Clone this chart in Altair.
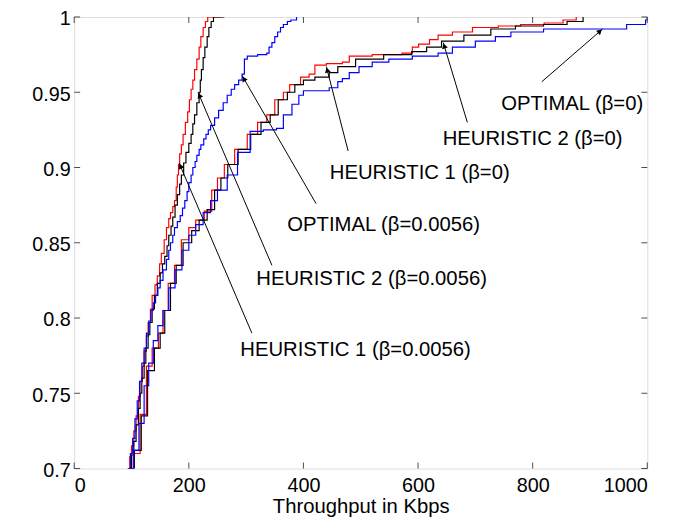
import math
import altair as alt
import pandas as pd

FONT = "Liberation Sans"

# ---- CDF curves (x: throughput in Kbps, y: CDF) ----
h1_fast_x = [93, 97, 100, 104, 108, 112, 115, 119, 122, 126, 129, 133, 136, 141, 145, 149, 152, 157, 161, 165, 168, 172, 175, 178, 180, 182, 184, 187, 190, 194, 198, 201, 204, 207, 210, 214, 218, 221, 225, 229, 233, 256]
h1_fast_y = [0.700, 0.708, 0.715, 0.725, 0.735, 0.748, 0.758, 0.768, 0.778, 0.788, 0.797, 0.806, 0.815, 0.822, 0.828, 0.836, 0.843, 0.852, 0.860, 0.866, 0.870, 0.874, 0.878, 0.887, 0.895, 0.902, 0.909, 0.915, 0.922, 0.930, 0.937, 0.945, 0.952, 0.958, 0.965, 0.972, 0.980, 0.987, 0.993, 0.997, 1.000, 1.000]

h2_fast_x = [97, 100, 104, 108, 112, 115, 118, 122, 125, 129, 132, 136, 140, 145, 150, 154, 158, 162, 165, 169, 172, 176, 180, 184, 187, 191, 195, 200, 204, 207, 210, 214, 218, 220, 222, 225, 228, 232, 235, 239, 243, 262]
h2_fast_y = [0.700, 0.709, 0.718, 0.729, 0.740, 0.750, 0.760, 0.770, 0.780, 0.789, 0.797, 0.806, 0.815, 0.823, 0.830, 0.836, 0.841, 0.848, 0.855, 0.861, 0.867, 0.875, 0.882, 0.889, 0.895, 0.903, 0.910, 0.916, 0.922, 0.929, 0.935, 0.943, 0.950, 0.958, 0.965, 0.973, 0.980, 0.987, 0.993, 0.997, 1.000, 1.000]

opt_fast_x = [94, 98, 102, 106, 110, 114, 118, 122, 126, 130, 134, 138, 142, 146, 150, 155, 161, 165, 168, 172, 175, 180, 185, 189, 193, 197, 200, 204, 207, 211, 214, 218, 221, 226, 230, 234, 238, 245, 252, 260, 267, 274, 280, 287, 293, 297, 302, 320, 336, 340, 345, 350, 355, 360, 365, 372, 378, 388]
opt_fast_y = [0.700, 0.710, 0.720, 0.733, 0.745, 0.758, 0.770, 0.780, 0.790, 0.798, 0.805, 0.810, 0.815, 0.820, 0.825, 0.832, 0.839, 0.845, 0.850, 0.855, 0.860, 0.864, 0.868, 0.873, 0.878, 0.884, 0.890, 0.895, 0.900, 0.904, 0.908, 0.912, 0.915, 0.919, 0.922, 0.925, 0.928, 0.933, 0.938, 0.943, 0.948, 0.952, 0.955, 0.958, 0.962, 0.972, 0.974, 0.975, 0.976, 0.980, 0.983, 0.987, 0.990, 0.993, 0.995, 0.997, 0.998, 1.000]

h1_slow_x = [95, 103, 115, 126, 136, 147, 155, 164, 175, 187, 200, 212, 227, 240, 250, 262, 280, 302, 320, 336, 350, 365, 376, 395, 410, 420, 440, 468, 480, 520, 572, 590, 601, 620, 635, 660, 695, 740, 779, 820, 853, 876]
h1_slow_y = [0.700, 0.710, 0.736, 0.768, 0.780, 0.790, 0.805, 0.823, 0.835, 0.852, 0.860, 0.865, 0.871, 0.885, 0.893, 0.902, 0.912, 0.922, 0.930, 0.935, 0.945, 0.950, 0.955, 0.960, 0.962, 0.968, 0.969, 0.970, 0.974, 0.975, 0.976, 0.980, 0.982, 0.985, 0.988, 0.990, 0.993, 0.994, 0.995, 0.996, 0.998, 1.000]

h2_slow_x = [97, 105, 117, 128, 140, 150, 158, 168, 178, 190, 205, 218, 232, 245, 256, 268, 286, 308, 326, 342, 356, 372, 385, 400, 420, 445, 460, 491, 540, 589, 615, 641, 680, 727, 770, 819, 860, 888]
h2_slow_y = [0.700, 0.712, 0.735, 0.765, 0.780, 0.790, 0.805, 0.823, 0.835, 0.850, 0.858, 0.865, 0.872, 0.885, 0.893, 0.902, 0.912, 0.922, 0.930, 0.935, 0.945, 0.950, 0.955, 0.958, 0.960, 0.963, 0.967, 0.972, 0.975, 0.977, 0.980, 0.984, 0.988, 0.992, 0.994, 0.995, 0.997, 1.000]

opt_slow_x = [94, 104, 113, 122, 130, 138, 146, 155, 165, 176, 188, 200, 212, 225, 238, 250, 267, 285, 307, 330, 353, 365, 380, 392, 400, 445, 460, 468, 480, 497, 520, 549, 590, 635, 660, 700, 735, 762, 819, 905, 964, 997, 1000]
opt_slow_y = [0.700, 0.712, 0.730, 0.755, 0.770, 0.785, 0.795, 0.805, 0.820, 0.832, 0.845, 0.855, 0.862, 0.870, 0.878, 0.885, 0.895, 0.910, 0.924, 0.925, 0.926, 0.935, 0.942, 0.948, 0.951, 0.953, 0.957, 0.959, 0.963, 0.967, 0.970, 0.972, 0.974, 0.976, 0.980, 0.984, 0.987, 0.990, 0.992, 0.992, 0.995, 0.998, 1.000]

series = [
    ("h1_fast", "#ff0000", h1_fast_x, h1_fast_y),
    ("h2_fast", "#000000", h2_fast_x, h2_fast_y),
    ("opt_fast", "#0000ff", opt_fast_x, opt_fast_y),
    ("h1_slow", "#ff0000", h1_slow_x, h1_slow_y),
    ("h2_slow", "#000000", h2_slow_x, h2_slow_y),
    ("opt_slow", "#0000ff", opt_slow_x, opt_slow_y),
]

# ---- annotations: label text, label centre, arrow start, arrow tip ----
ann_text = ["OPTIMAL (β=0)", "HEURISTIC 2 (β=0)", "HEURISTIC 1 (β=0)",
            "OPTIMAL (β=0.0056)", "HEURISTIC 2 (β=0.0056)", "HEURISTIC 1 (β=0.0056)"]
ann_tx = [869, 800, 603, 540, 519, 491]
ann_ty = [0.942, 0.919, 0.896, 0.862, 0.826, 0.779]
arr_x0 = [816, 686, 478, 422, 345, 310]
arr_y0 = [0.957, 0.930, 0.911, 0.876, 0.835, 0.790]
arr_x1 = [922, 644, 440, 293, 216, 183]
arr_y1 = [0.992, 0.983, 0.967, 0.961, 0.950, 0.903]

x_ticks = [0, 200, 400, 600, 800, 1000]
y_ticks = [0.7, 0.75, 0.8, 0.85, 0.9, 0.95, 1.0]

W, H = 580, 457
XD = [0, 1000]
YD = [0.7, 1.0]

xs = alt.Scale(domain=XD, nice=False, zero=False)
ys = alt.Scale(domain=YD, nice=False, zero=False)

x_axis = alt.Axis(values=x_ticks, format="d", ticks=False, domain=False, grid=False,
                  labelFont=FONT, labelFontSize=20, labelColor="black",
                  labelPadding=7, title="Throughput in Kbps", titleFont=FONT,
                  titleFontSize=20.5, titleFontWeight="normal", titleColor="black",
                  titleBaseline="alphabetic", titleY=45)
y_axis = alt.Axis(values=y_ticks, ticks=False, domain=False, grid=False,
                  format=".2~f", labelFont=FONT, labelFontSize=20,
                  labelColor="black", labelPadding=4, labelBaseline="middle",
                  labelOffset=2, title=None)

line_layers = []
for k, (name, col, sx, sy) in enumerate(series):
    d = pd.DataFrame({"x": sx, "y": sy, "i": list(range(len(sx)))})
    enc_x = alt.X("x:Q", scale=xs, axis=x_axis) if k == 0 else alt.X("x:Q", scale=xs)
    enc_y = alt.Y("y:Q", scale=ys, axis=y_axis) if k == 0 else alt.Y("y:Q", scale=ys)
    line_layers.append(
        alt.Chart(d).mark_line(interpolate="step-after", strokeWidth=1.2, clip=True, color=col)
        .encode(x=enc_x, y=enc_y, order="i:Q")
    )

# arrow heads: direction computed through the same linear mapping as the scales
heads = []
for x0, y0, x1, y1 in zip(arr_x0, arr_y0, arr_x1, arr_y1):
    px0, py0 = x0 / 1000 * W, (1 - y0) / 0.3 * H
    px1, py1 = x1 / 1000 * W, (1 - y1) / 0.3 * H
    dx, dy = px1 - px0, py1 - py0
    L = math.hypot(dx, dy)
    ang = math.degrees(math.atan2(dx, -dy)) % 360
    hx = px1 - 3.5 * dx / L
    hy = py1 - 3.5 * dy / L
    heads.append({"x": hx / W * 1000, "y": 1 - hy / H * 0.3, "ang": ang})
df_heads = pd.DataFrame(heads)
df_arr = pd.DataFrame({"x": arr_x0, "y": arr_y0, "x2": arr_x1, "y2": arr_y1})
df_ann = pd.DataFrame({"t": ann_text, "x": ann_tx, "y": ann_ty})

df_xt = pd.DataFrame({"x": x_ticks})
df_yt = pd.DataFrame({"y": y_ticks})
tick_bottom = alt.Chart(df_xt).mark_tick(orient="vertical", size=6, thickness=1, color="black").encode(
    x=alt.X("x:Q", scale=xs), y=alt.value(H - 3))
tick_top = alt.Chart(df_xt).mark_tick(orient="vertical", size=6, thickness=1, color="black").encode(
    x=alt.X("x:Q", scale=xs), y=alt.value(3))
tick_left = alt.Chart(df_yt).mark_tick(orient="horizontal", size=6, thickness=1, color="black").encode(
    y=alt.Y("y:Q", scale=ys), x=alt.value(3))
tick_right = alt.Chart(df_yt).mark_tick(orient="horizontal", size=6, thickness=1, color="black").encode(
    y=alt.Y("y:Q", scale=ys), x=alt.value(W - 3))

arrows = alt.Chart(df_arr).mark_rule(color="black", strokeWidth=1).encode(
    x=alt.X("x:Q", scale=xs), y=alt.Y("y:Q", scale=ys), x2="x2:Q", y2="y2:Q")
arrow_heads = alt.Chart(df_heads).mark_point(shape="triangle-up", filled=True, size=36,
                                             color="black", opacity=1).encode(
    x=alt.X("x:Q", scale=xs), y=alt.Y("y:Q", scale=ys), angle=alt.Angle("ang:Q", scale=None))
labels = alt.Chart(df_ann).mark_text(font=FONT, fontSize=20.5, color="black",
                                     align="center", baseline="middle").encode(
    x=alt.X("x:Q", scale=xs), y=alt.Y("y:Q", scale=ys), text="t:N")

chart = alt.layer(*line_layers, tick_bottom, tick_top, tick_left, tick_right,
                  arrows, arrow_heads, labels).properties(
    width=W, height=H,
    autosize=alt.AutoSizeParams(type="none"),
    padding={"left": 67, "top": 6, "right": 23, "bottom": 48},
).configure_view(stroke="black", strokeWidth=1).configure(background="white")

chart.save("out.html", embed_options={"renderer": "svg", "actions": False})
